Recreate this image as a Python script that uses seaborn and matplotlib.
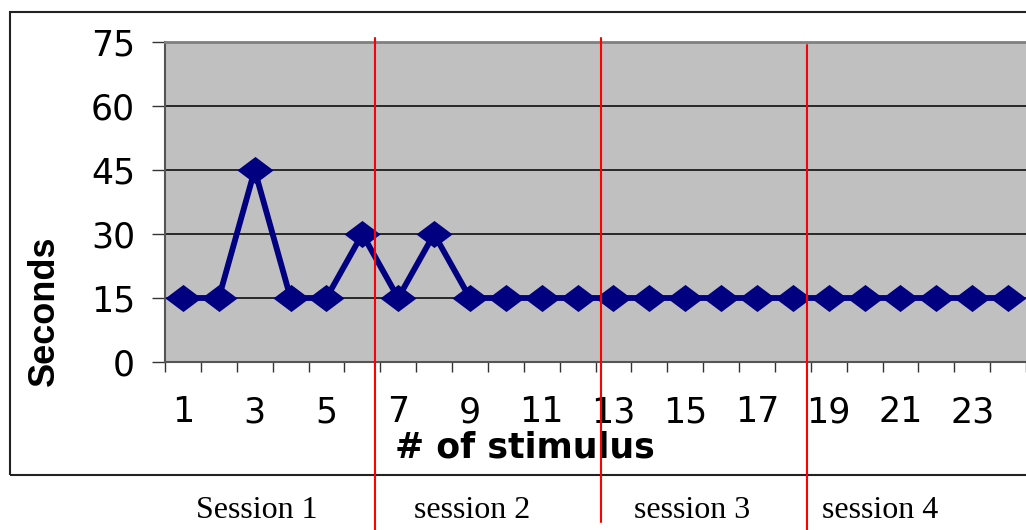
import numpy as np
import pandas as pd
import matplotlib
matplotlib.use("Agg")
import matplotlib.pyplot as plt
from matplotlib.lines import Line2D
from matplotlib.patches import Rectangle
import seaborn as sns

# data
stimulus = list(range(1, 25))
seconds = [15, 15, 45, 15, 15, 30, 15, 30, 15, 15, 15, 15,
           15, 15, 15, 15, 15, 15, 15, 15, 15, 15, 15, 15]
y_ticks = [0, 15, 30, 45, 60, 75]
x_labelled = list(range(1, 24, 2))
sessions = ["Session 1", "session 2", "session 3", "session 4"]

sns.set_theme(style="white")
plt.rcParams["font.family"] = ["DejaVu Sans"]
plt.rcParams["text.color"] = "black"
plt.rcParams["axes.labelcolor"] = "black"
plt.rcParams["xtick.labelcolor"] = "black"
plt.rcParams["ytick.labelcolor"] = "black"

df = pd.DataFrame({"stimulus": stimulus, "seconds": seconds})

W, H = 1026, 530
fig = plt.figure(figsize=(W / 100, H / 100), dpi=100)
ax = fig.add_axes([165 / W, 1 - 362 / H, 1 - 165 / W, (362 - 42) / H])
ax.set_facecolor("#c0c0c0")

diamond = [(-1, 0), (0, 0.75), (1, 0), (0, -0.75), (-1, 0)]
sns.lineplot(data=df, x="stimulus", y="seconds", ax=ax, color="#000080",
             linewidth=4.2, marker=diamond, markersize=26,
             markeredgewidth=0, clip_on=False, zorder=3)

ax.set_ylim(0, 75)
ax.set_xlim(0.5, 0.5 + (W - 165) / 36.4)
ax.set_yticks(y_ticks)
ax.set_yticklabels([str(v) for v in y_ticks], fontsize=25)
ax.yaxis.grid(True, color="black", linewidth=1.1)
ax.set_axisbelow(True)

ax.set_xticks(x_labelled)
ax.set_xticklabels([str(v) for v in x_labelled], fontsize=25)
ax.set_xticks(np.arange(0.5, 25, 1), minor=True)
ax.tick_params(axis="x", which="major", length=0, pad=24)
ax.tick_params(axis="x", which="minor", length=7, width=1, color="#333333",
               direction="out", bottom=True)
ax.tick_params(axis="y", length=9.5, width=1, color="#333333", pad=12,
               direction="out", left=True)

for side in ["left", "bottom"]:
    ax.spines[side].set_color("#555555")
    ax.spines[side].set_linewidth(1.5)
ax.spines["top"].set_color("#808080")
ax.spines["top"].set_linewidth(2)
ax.spines["right"].set_visible(False)

ax.set_xlabel("# of stimulus", fontsize=25, fontweight="bold")
ax.xaxis.set_label_coords((525 - 165) / (W - 165), -(430 - 362) / 320)
ax.set_ylabel("Seconds", fontsize=26, fontweight="bold",
              family=["Liberation Sans", "DejaVu Sans"])
ax.yaxis.set_label_coords(-(165 - 62) / (W - 165), (362 - 311) / 320)

# outer chart frame
fig.add_artist(Rectangle((10 / W, 1 - 475 / H), 1.2, (475 - 12) / H,
                         transform=fig.transFigure, fill=False,
                         edgecolor="#222222", linewidth=1.5))

# session separators (drawn shapes)
for px, top, bot in [(375, 38, 530), (601, 38, 522), (807, 45, 530)]:
    fig.add_artist(Line2D([px / W, px / W], [1 - top / H, 1 - bot / H],
                          transform=fig.transFigure, color="#ff0000",
                          linewidth=1.5, zorder=10))

for name, cx in zip(sessions, [257, 472, 692, 880]):
    fig.text(cx / W, 1 - 511 / H, name, ha="center", va="center",
             fontsize=23, family=["Liberation Serif", "DejaVu Serif"])

fig.savefig("out.png", dpi=100)
